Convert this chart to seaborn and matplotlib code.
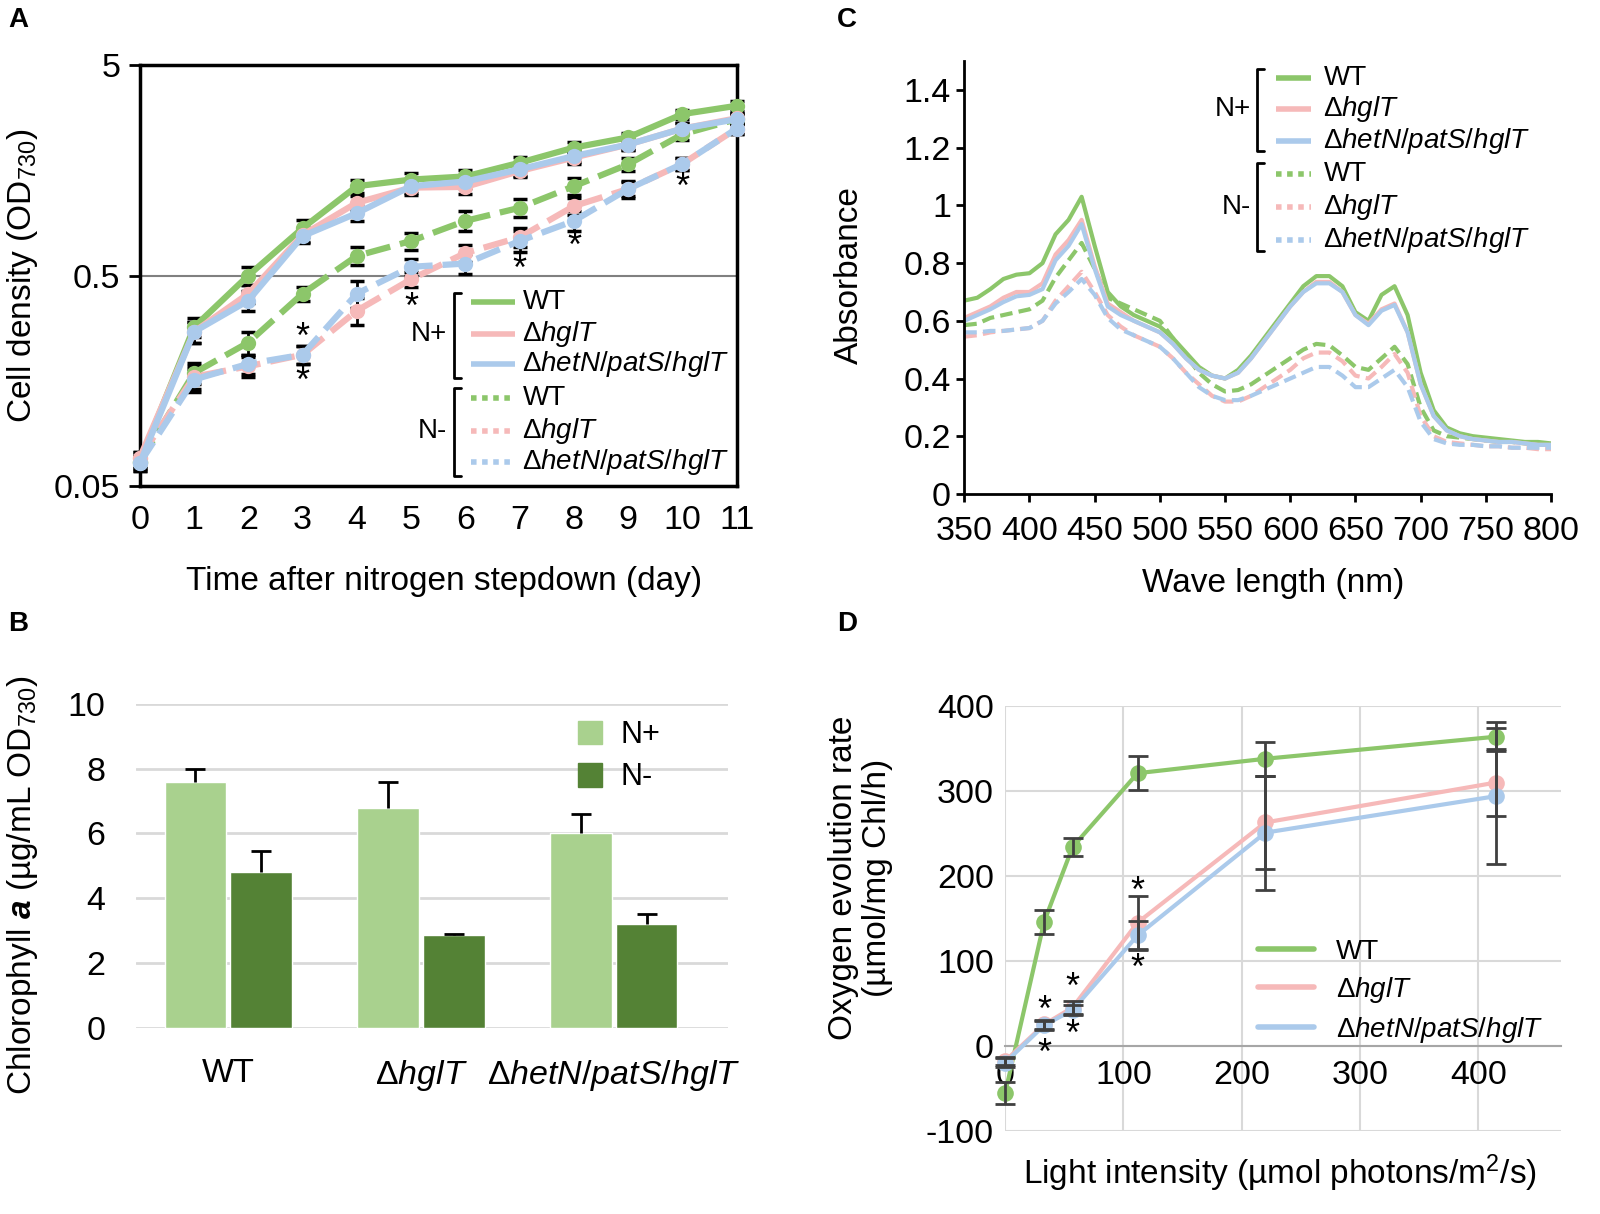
import numpy as np
import pandas as pd
import seaborn as sns
import matplotlib.pyplot as plt
from matplotlib.lines import Line2D
from matplotlib.patches import Patch

sns.set_theme(style="white")
plt.rcParams['font.family'] = ['Liberation Sans', 'DejaVu Sans']
plt.rcParams['mathtext.fontset'] = 'custom'
plt.rcParams['mathtext.rm'] = 'Liberation Sans'
plt.rcParams['mathtext.it'] = 'Liberation Sans:italic'
plt.rcParams['mathtext.bf'] = 'Liberation Sans:bold'
plt.rcParams['mathtext.bfit'] = 'Liberation Sans:italic:bold'
plt.rcParams['axes.unicode_minus'] = False
for k in ['text.color', 'axes.labelcolor', 'xtick.color', 'ytick.color']:
    plt.rcParams[k] = 'black'

GREEN = '#8cc66a'
PINK = '#f6b9b9'
BLUE = '#abcaeb'
LIGHT = '#a9d18e'
DARK = '#548235'

STRAINS = ['WT', 'hglT', 'het']
LABELS = ['WT', r'Δ$\mathit{hglT}$', r'Δ$\mathit{hetN/patS/hglT}$']
PAL = {'WT': GREEN, 'hglT': PINK, 'het': BLUE}

# ---- panel A : growth (OD730)
days = list(range(12))
a_wt_np = [0.065, 0.284, 0.50, 0.84, 1.33, 1.43, 1.48, 1.72, 2.03, 2.27, 2.93, 3.21]
a_hglt_np = [0.068, 0.27, 0.41, 0.78, 1.11, 1.31, 1.32, 1.57, 1.82, 2.10, 2.50, 2.80]
a_het_np = [0.064, 0.27, 0.38, 0.77, 0.99, 1.33, 1.40, 1.60, 1.85, 2.10, 2.50, 2.77]
a_wt_nm = [0.065, 0.172, 0.24, 0.41, 0.62, 0.73, 0.91, 1.05, 1.33, 1.69, 2.35, 2.77]
a_hglt_nm = [0.068, 0.165, 0.185, 0.21, 0.34, 0.48, 0.64, 0.76, 1.07, 1.29, 1.70, 2.50]
a_het_nm = [0.064, 0.16, 0.19, 0.21, 0.41, 0.55, 0.57, 0.73, 0.91, 1.29, 1.70, 2.50]
a_wt_np_sd = [0.004, 0.03, 0.05, 0.08, 0.10, 0.10, 0.10, 0.12, 0.12, 0.10, 0.15, 0.18]
a_hglt_np_sd = [0.004, 0.03, 0.04, 0.06, 0.08, 0.10, 0.10, 0.10, 0.12, 0.12, 0.15, 0.15]
a_het_np_sd = [0.005, 0.03, 0.04, 0.06, 0.08, 0.10, 0.10, 0.12, 0.12, 0.12, 0.15, 0.15]
a_wt_nm_sd = [0.004, 0.02, 0.03, 0.03, 0.06, 0.07, 0.10, 0.10, 0.12, 0.12, 0.15, 0.15]
a_hglt_nm_sd = [0.004, 0.02, 0.02, 0.02, 0.05, 0.04, 0.06, 0.08, 0.10, 0.10, 0.12, 0.15]
a_het_nm_sd = [0.005, 0.02, 0.02, 0.02, 0.06, 0.05, 0.06, 0.08, 0.10, 0.12, 0.12, 0.15]
a_star_day = [3, 3, 5, 7, 8, 10]
a_star_od = [0.25, 0.155, 0.35, 0.53, 0.68, 1.30]

# ---- panel B : chlorophyll
b_np = [7.6, 6.8, 6.0]
b_np_sd = [0.4, 0.8, 0.6]
b_nm = [4.8, 2.85, 3.2]
b_nm_sd = [0.65, 0.05, 0.3]

# ---- panel C : absorbance spectra
wl = list(range(350, 801, 10))
c_wt_np = [0.67, 0.68, 0.71, 0.745, 0.76, 0.765, 0.80, 0.90, 0.95, 1.03, 0.86, 0.70,
           0.65, 0.62, 0.60, 0.58, 0.54, 0.49, 0.44, 0.41, 0.40, 0.43, 0.48, 0.54,
           0.60, 0.66, 0.72, 0.755, 0.755, 0.72, 0.63, 0.60, 0.69, 0.72, 0.62, 0.42,
           0.29, 0.23, 0.21, 0.20, 0.195, 0.19, 0.185, 0.18, 0.18, 0.175]
c_hglt_np = [0.61, 0.63, 0.65, 0.68, 0.70, 0.70, 0.73, 0.83, 0.88, 0.95, 0.79, 0.66,
             0.63, 0.60, 0.58, 0.56, 0.52, 0.47, 0.43, 0.41, 0.40, 0.42, 0.47, 0.53,
             0.59, 0.65, 0.70, 0.735, 0.735, 0.70, 0.62, 0.59, 0.64, 0.66, 0.56, 0.38,
             0.27, 0.22, 0.20, 0.19, 0.185, 0.18, 0.18, 0.175, 0.17, 0.17]
c_het_np = [0.60, 0.62, 0.64, 0.665, 0.685, 0.69, 0.71, 0.81, 0.86, 0.935, 0.78, 0.65,
            0.62, 0.60, 0.58, 0.56, 0.52, 0.47, 0.43, 0.41, 0.40, 0.42, 0.47, 0.53,
            0.59, 0.65, 0.70, 0.73, 0.73, 0.70, 0.62, 0.585, 0.635, 0.655, 0.56, 0.38,
            0.27, 0.22, 0.20, 0.19, 0.185, 0.18, 0.18, 0.175, 0.17, 0.17]
c_wt_nm = [0.585, 0.59, 0.61, 0.62, 0.63, 0.64, 0.67, 0.75, 0.81, 0.87, 0.78, 0.68,
           0.66, 0.64, 0.62, 0.60, 0.54, 0.48, 0.42, 0.38, 0.355, 0.36, 0.38, 0.41,
           0.44, 0.47, 0.50, 0.52, 0.515, 0.48, 0.44, 0.43, 0.47, 0.51, 0.45, 0.30,
           0.22, 0.20, 0.195, 0.19, 0.185, 0.18, 0.18, 0.175, 0.17, 0.17]
c_hglt_nm = [0.545, 0.55, 0.56, 0.565, 0.57, 0.575, 0.60, 0.67, 0.72, 0.77, 0.70, 0.62,
             0.58, 0.55, 0.53, 0.51, 0.47, 0.42, 0.38, 0.34, 0.32, 0.32, 0.34, 0.37,
             0.40, 0.43, 0.47, 0.49, 0.49, 0.46, 0.41, 0.40, 0.44, 0.485, 0.42, 0.27,
             0.20, 0.18, 0.175, 0.17, 0.165, 0.165, 0.16, 0.16, 0.155, 0.155]
c_het_nm = [0.56, 0.56, 0.565, 0.565, 0.57, 0.575, 0.60, 0.66, 0.70, 0.745, 0.69, 0.61,
            0.57, 0.55, 0.53, 0.51, 0.47, 0.42, 0.37, 0.34, 0.325, 0.325, 0.34, 0.36,
            0.38, 0.40, 0.42, 0.44, 0.44, 0.41, 0.37, 0.37, 0.40, 0.43, 0.37, 0.25,
            0.19, 0.175, 0.17, 0.17, 0.165, 0.165, 0.16, 0.16, 0.16, 0.16]

# ---- panel D : oxygen evolution
light = [0, 33, 57, 112, 220, 415]
d_wt = [-56, 146, 234, 321, 338, 364]
d_hglt = [-18, 25, 45, 145, 263, 310]
d_het = [-20, 24, 42, 130, 251, 294]
d_wt_sd = [13, 14, 11, 20, 20, 17]
d_hglt_sd = [5, 5, 8, 31, 55, 40]
d_het_sd = [5, 5, 6, 17, 67, 80]
d_star_x = [33, 33, 57, 57, 112, 112]
d_star_y = [40, -10, 68, 12, 180, 90]

# layout helpers (reference pixel coords)
S = 1600 / 1568
W, H = 1600, 1214
def fx(px): return px * S / W
def fy(py): return 1 - py * S / H
def box(l, t, r, b): return [fx(l), fy(b), fx(r) - fx(l), fy(t) - fy(b)]

TICK = 24.5
LAB = 24
LEG = 20
STAR = 26

fig = plt.figure(figsize=(16, 12.14), dpi=100)

# ================= A
axA = fig.add_axes(box(137, 64, 722, 476))
rows = []
for cond, series in [('N+', [a_wt_np, a_hglt_np, a_het_np]), ('N-', [a_wt_nm, a_hglt_nm, a_het_nm])]:
    for s, vals in zip(STRAINS, series):
        for d, v in zip(days, vals):
            rows.append({'day': d, 'od': v, 'strain': s, 'cond': cond})
dfA = pd.DataFrame(rows)
sds = [a_wt_np_sd, a_hglt_np_sd, a_het_np_sd, a_wt_nm_sd, a_hglt_nm_sd, a_het_nm_sd]
vals_all = [a_wt_np, a_hglt_np, a_het_np, a_wt_nm, a_hglt_nm, a_het_nm]
for v, sd in zip(vals_all, sds):
    axA.errorbar(days, v, yerr=sd, fmt='none', ecolor='black', elinewidth=2,
                 capsize=5, capthick=2.5, zorder=1, clip_on=False)
sns.lineplot(data=dfA, x='day', y='od', hue='strain', style='cond', palette=PAL,
             hue_order=STRAINS, style_order=['N-', 'N+'],
             dashes={'N+': '', 'N-': (4, 1.6)}, markers={'N+': 'o', 'N-': 'o'},
             markersize=11, markeredgewidth=0, lw=4.5, legend=False,
             errorbar=None, ax=axA, zorder=3, clip_on=False)
for d, v in zip(a_star_day, a_star_od):
    axA.text(d, v, '*', ha='center', va='center', fontsize=STAR, color='black')
axA.set_yscale('log')
axA.set_ylim(0.05, 5)
axA.set_xlim(0, 11)
axA.set_yticks([0.05, 0.5, 5])
axA.set_yticklabels(['0.05', '0.5', '5'])
axA.yaxis.set_minor_locator(plt.NullLocator())
axA.set_xticks(days)
axA.yaxis.grid(True, color='#808080', lw=1.5)
axA.xaxis.grid(False)
for sp in axA.spines.values():
    sp.set_color('black')
    sp.set_linewidth(2.5)
axA.tick_params(axis='y', which='major', length=8, width=2, direction='out', left=True,
                labelsize=TICK, pad=6)
axA.tick_params(axis='x', length=0, labelsize=TICK, pad=14)
axA.set_xlabel('Time after nitrogen stepdown (day)', fontsize=LAB, va='center')
axA.xaxis.set_label_coords(0.51, -0.228)
axA.set_ylabel('Cell density (OD$_{730}$)', fontsize=LAB, va='center')
axA.yaxis.set_label_coords(-0.197, 0.5)

# bracketed legend drawn beside the plot
def bracket_legend(ys, x_line0, x_line1, x_text, x_br, br_plus, br_minus, x_grp, lw):
    cols = [GREEN, PINK, BLUE] * 2
    for i, y in enumerate(ys):
        ls = '-' if i < 3 else (0, (1, 1))
        fig.add_artist(Line2D([fx(x_line0), fx(x_line1)], [fy(y), fy(y)], color=cols[i],
                              lw=lw, ls=ls, solid_capstyle='butt'))
        fig.text(fx(x_text), fy(y), LABELS[i % 3], fontsize=LEG, va='center', ha='left')
    for (t, b), lab, yc in [(br_plus, 'N+', ys[1]), (br_minus, 'N-', ys[4])]:
        fig.add_artist(Line2D([fx(x_br + 7), fx(x_br), fx(x_br), fx(x_br + 7)],
                              [fy(t), fy(t), fy(b), fy(b)], color='black', lw=2))
        fig.text(fx(x_grp), fy(yc), lab, fontsize=LEG, va='center', ha='right')

bracket_legend([296, 327, 357, 390, 422, 453], 462, 505, 512, 445,
               (287, 370), (380, 466), 438, 4)

# ================= C
axC = fig.add_axes(box(945, 60, 1520, 484))
rows = []
for cond, series in [('N+', [c_wt_np, c_hglt_np, c_het_np]), ('N-', [c_wt_nm, c_hglt_nm, c_het_nm])]:
    for s, vals in zip(STRAINS, series):
        for w_, v in zip(wl, vals):
            rows.append({'wl': w_, 'abs': v, 'strain': s, 'cond': cond})
dfC = pd.DataFrame(rows)
sns.lineplot(data=dfC, x='wl', y='abs', hue='strain', style='cond', palette=PAL,
             hue_order=STRAINS, style_order=['N-', 'N+'],
             dashes={'N+': '', 'N-': (3, 1.5)}, lw=3, legend=False,
             errorbar=None, ax=axC)
axC.set_xlim(350, 800)
axC.set_ylim(0, 1.5)
axC.set_xticks(range(350, 801, 50))
axC.set_yticks([0, 0.2, 0.4, 0.6, 0.8, 1, 1.2, 1.4])
axC.set_yticklabels(['0', '0.2', '0.4', '0.6', '0.8', '1', '1.2', '1.4'])
axC.spines['top'].set_visible(False)
axC.spines['right'].set_visible(False)
for sp in ['left', 'bottom']:
    axC.spines[sp].set_color('black')
    axC.spines[sp].set_linewidth(2)
axC.tick_params(axis='both', length=6, width=2, direction='out', bottom=True, left=True,
                labelsize=TICK)
axC.tick_params(axis='x', pad=10)
axC.set_xlabel('Wave length (nm)', fontsize=LAB, va='center')
axC.xaxis.set_label_coords(0.527, -0.208)
axC.set_ylabel('Absorbance', fontsize=LAB, va='center')
axC.yaxis.set_label_coords(-0.195, 0.505)

bracket_legend([76, 107, 138, 171, 203, 235], 1250, 1285, 1297, 1232,
               (68, 148), (160, 246), 1226, 4)

# ================= B
axB = fig.add_axes(box(133, 690, 713, 1007))
dfB = pd.DataFrame({
    'strain': LABELS * 2,
    'chl': b_np + b_nm,
    'cond': ['N+'] * 3 + ['N-'] * 3,
})
sns.barplot(data=dfB, x='strain', y='chl', hue='cond', palette={'N+': LIGHT, 'N-': DARK},
            width=0.68, gap=0.06, errorbar=None, legend=False, ax=axB, zorder=2,
            saturation=1)
for cont, sd in zip(axB.containers, [b_np_sd, b_nm_sd]):
    xs = [p.get_x() + p.get_width() / 2 for p in cont.patches]
    hs = [p.get_height() for p in cont.patches]
    eb = axB.errorbar(xs, hs, yerr=[np.zeros(len(sd)), sd], fmt='none', ecolor='black',
                      elinewidth=2, capsize=7, capthick=2, zorder=3)
    eb[1][0].set_visible(False)
axB.set_ylim(0, 10)
axB.set_xlim(-0.48, 2.59)
axB.set_yticks(range(0, 11, 2))
axB.yaxis.grid(True, color='#d9d9d9', lw=2)
axB.xaxis.grid(False)
for sp in axB.spines.values():
    sp.set_visible(False)
axB.tick_params(axis='both', length=0, labelsize=TICK)
axB.tick_params(axis='y', pad=22)
axB.tick_params(axis='x', pad=22)
axB.set_xlabel('')
axB.set_ylabel(r'Chlorophyll $\mathbfit{a}$ (µg/mL OD$_{730}$)', fontsize=LAB, va='center')
axB.yaxis.set_label_coords(-0.191, 0.44)
axB.legend(handles=[Patch(color=LIGHT, label='N+'), Patch(color=DARK, label='N-')],
           loc='upper left', bbox_to_anchor=(0.70, 1.035), frameon=False, fontsize=LEG + 2,
           handlelength=0.8, handleheight=0.8, handletextpad=0.6, labelspacing=0.4)

# ================= D
axD = fig.add_axes(box(985, 692, 1530, 1108))
rows = []
for s, vals in zip(STRAINS, [d_wt, d_hglt, d_het]):
    for x_, v in zip(light, vals):
        rows.append({'light': x_, 'rate': v, 'strain': s})
dfD = pd.DataFrame(rows)
for v, sd in zip([d_wt, d_hglt, d_het], [d_wt_sd, d_hglt_sd, d_het_sd]):
    axD.errorbar(light, v, yerr=sd, fmt='none', ecolor='#404040', elinewidth=2,
                 capsize=7, capthick=2, zorder=4, clip_on=False)
sns.lineplot(data=dfD, x='light', y='rate', hue='strain', palette=PAL, hue_order=STRAINS,
             marker='o', markersize=12, markeredgewidth=0, lw=3, legend=False,
             errorbar=None, ax=axD, zorder=3, clip_on=False)
for x_, y_ in zip(d_star_x, d_star_y):
    axD.text(x_, y_, '*', ha='center', va='center', fontsize=STAR, color='black')
axD.set_xlim(0, 470)
axD.set_ylim(-100, 400)
axD.set_xticks(range(0, 401, 100))
axD.set_yticks(range(-100, 401, 100))
axD.grid(True, color='#d9d9d9', lw=1.5)
for sp in ['top', 'right', 'left']:
    axD.spines[sp].set_visible(False)
axD.spines['bottom'].set_position(('data', 0))
axD.spines['bottom'].set_color('#a6a6a6')
axD.spines['bottom'].set_linewidth(1.5)
axD.tick_params(axis='both', length=0, labelsize=TICK)
axD.tick_params(axis='x', pad=10)
axD.tick_params(axis='y', pad=8)
axD.set_xlabel('Light intensity (µmol photons/m$^{2}$/s)', fontsize=LAB, va='center')
axD.xaxis.set_label_coords(0.495, -0.10)
axD.set_ylabel('Oxygen evolution rate\n(µmol/mg Chl/h)', fontsize=LAB, va='center',
               linespacing=1.1)
axD.yaxis.set_label_coords(-0.26, 0.596)
axD.legend(handles=[Line2D([], [], color=PAL[s], lw=4, label=l) for s, l in zip(STRAINS, LABELS)],
           loc='upper left', bbox_to_anchor=(0.41, 0.51), frameon=False, fontsize=LEG,
           handlelength=2.0, handletextpad=0.8, labelspacing=0.35)

# panel letters
for lab, x_, y_ in [('A', 18, 20), ('B', 18, 612), ('C', 830, 20), ('D', 830, 612)]:
    fig.text(fx(x_), fy(y_), lab, fontsize=20, weight='bold', ha='center', va='center')

fig.savefig('out.png', dpi=100, facecolor='white')
